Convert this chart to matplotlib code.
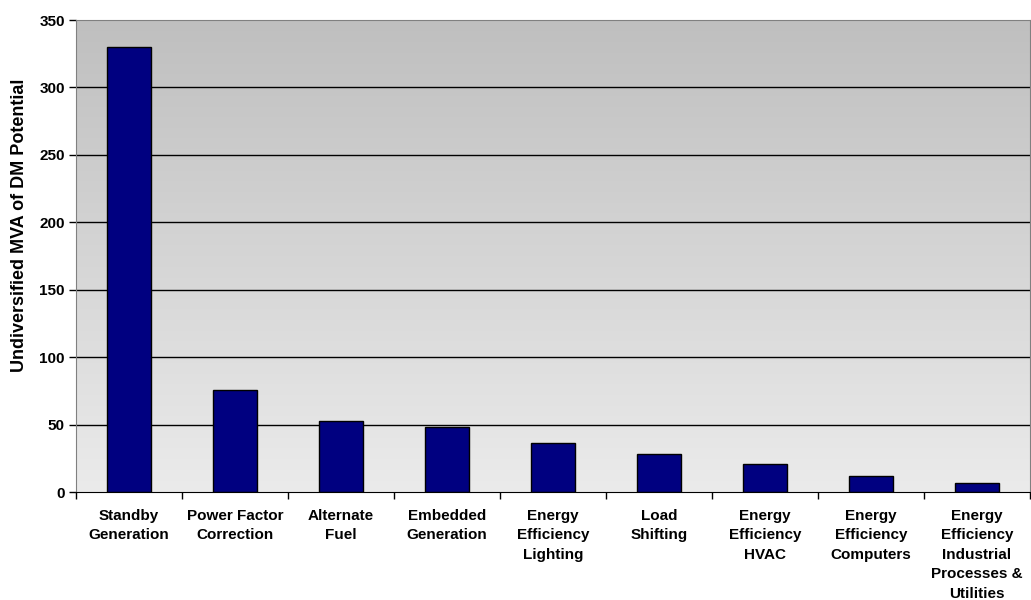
import matplotlib
matplotlib.use('Agg')
import matplotlib.pyplot as plt
import numpy as np

categories = ['Standby\nGeneration', 'Power Factor\nCorrection', 'Alternate\nFuel',
              'Embedded\nGeneration', 'Energy\nEfficiency\nLighting', 'Load\nShifting',
              'Energy\nEfficiency\nHVAC', 'Energy\nEfficiency\nComputers',
              'Energy\nEfficiency\nIndustrial\nProcesses &\nUtilities']
values = [330, 76, 53, 48, 36, 28, 21, 12, 7]
yticks = [0, 50, 100, 150, 200, 250, 300, 350]

plt.rcParams['font.family'] = ['Liberation Sans', 'DejaVu Sans']
plt.rcParams['font.weight'] = 'bold'

fig = plt.figure(figsize=(10.31, 6), dpi=100)
ax = fig.add_axes([76/1031, 108/600, (1030-76)/1031, (492-20)/600])

x = np.arange(len(categories))
ax.set_xlim(-0.5, len(categories) - 0.5)
ax.set_ylim(0, 350)

# gradient background
grad = np.linspace(0, 1, 256).reshape(-1, 1)
ax.imshow(grad, cmap=matplotlib.colors.LinearSegmentedColormap.from_list('g', ['#ebebeb', '#bfbfbf']),
          extent=[-0.5, len(categories) - 0.5, 0, 350], aspect='auto', origin='lower', zorder=0)

for y in yticks[1:-1]:
    ax.axhline(y, color='black', lw=1, zorder=1)

ax.bar(x, values, width=0.41, color='#000080', edgecolor='black', lw=1, zorder=2)

ax.set_yticks(yticks)
ax.set_yticklabels([str(v) for v in yticks], fontsize=11, fontweight='bold')
ax.set_xticks(np.arange(len(categories) + 1) - 0.5, minor=False)
ax.set_xticklabels([])
ax.set_xticks(x, minor=True)
ax.set_xticklabels(categories, minor=True, fontsize=11, fontweight='bold', linespacing=1.5, va='top')
ax.tick_params(axis='x', which='minor', length=0, pad=12)
ax.tick_params(axis='x', which='major', length=5, direction='out', width=1)
ax.tick_params(axis='y', length=5, direction='out', width=1, pad=3)

ax.set_ylabel('Undiversified MVA of DM Potential', fontsize=13, fontweight='bold')
ax.yaxis.set_label_coords(-0.05, 0.566)

for s in ['top', 'right']:
    ax.spines[s].set_color('#808080')
ax.spines['left'].set_color('#808080')
ax.spines['bottom'].set_color('black')

fig.savefig('out.png', dpi=100)
